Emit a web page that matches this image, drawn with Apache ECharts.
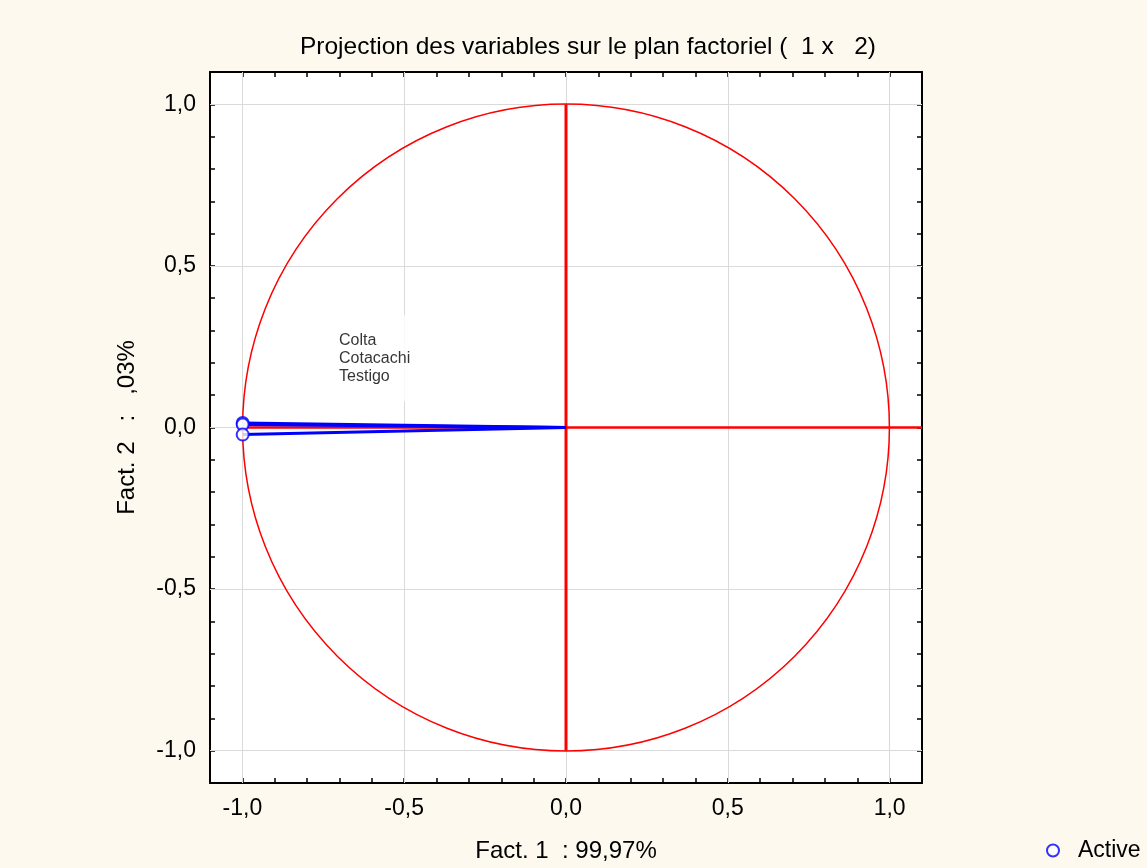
<!DOCTYPE html>
<html>
<head>
<meta charset="utf-8">
<script src="https://cdn.jsdelivr.net/npm/echarts@6/dist/echarts.min.js"></script>
<style>
  html, body { margin: 0; padding: 0; background: #fdf9ee; }
  #chart { width: 1147px; height: 868px; }
</style>
</head>
<body>
<div id="chart"></div>
<script>
// variables (coordonnees sur Fact. 1 / Fact. 2)
var varNames = ['Colta', 'Cotacachi', 'Testigo'];
var fact1 = [-0.999, -0.999, -0.999];
var fact2 = [0.014, 0.009, -0.022];
var labelPos = [-0.726, 0.214];
var gridVals = [-1, -0.5, 0, 0.5, 1];
var unitCircle = [[0, 0, 1]];
var crossH = [[-1, 0], [1.1, 0]];
var crossV = [[0, -1], [0, 1]];

var font = 'Liberation Sans, Arial, sans-serif';
var myChart = echarts.init(document.getElementById('chart'));

function tickFmt(v) {
  var r = Math.round(v * 10) / 10;
  if (Math.abs(r * 2 - Math.round(r * 2)) > 1e-9) return '';
  return r.toFixed(1).replace('.', ',');
}

function axis(pos, showLabel, name, gap) {
  return {
    type: 'value', min: -1.1, max: 1.1, interval: 0.1, position: pos,
    axisLine: { show: true, onZero: false, lineStyle: { color: '#000', width: 2 } },
    axisTick: { show: true, inside: true, length: 5, lineStyle: { color: '#000', width: 1.5 } },
    axisLabel: { show: showLabel, formatter: tickFmt, fontSize: 23, color: '#000', fontFamily: font, margin: 14 },
    splitLine: { show: false },
    name: name || '', nameLocation: 'middle', nameGap: gap || 0,
    nameTextStyle: { fontSize: 24, color: '#000', fontFamily: font }
  };
}

var series = [];
// lignes de grille
series.push({
  type: 'line', data: [], silent: true,
  markLine: {
    silent: true, symbol: 'none', z: 1, label: { show: false },
    lineStyle: { color: '#dadada', width: 1, type: 'solid' },
    data: gridVals.map(function (v) { return { xAxis: v }; })
      .concat(gridVals.map(function (v) { return { yAxis: v }; }))
  }
});
// cercle des correlations
series.push({
  type: 'custom', data: unitCircle, z: 3, silent: true,
  encode: { x: 0, y: 1 },
  renderItem: function (params, api) {
    var c = api.coord([api.value(0), api.value(1)]);
    var s = api.size([api.value(2), api.value(2)]);
    return {
      type: 'circle',
      shape: { cx: c[0], cy: c[1], r: (s[0] + s[1]) / 2 },
      style: { fill: 'none', stroke: '#ff0000', lineWidth: 1.5 }
    };
  }
});
series.push({ type: 'line', data: crossH, z: 3, symbol: 'none', silent: true,
  lineStyle: { color: '#ff0000', width: 2.5 } });
series.push({ type: 'line', data: crossV, z: 3, symbol: 'none', silent: true,
  lineStyle: { color: '#ff0000', width: 3 } });
// vecteurs
for (var i = 0; i < varNames.length; i++) {
  series.push({
    type: 'line', name: varNames[i], z: 4, symbol: 'none', silent: true,
    data: [[0, 0], [fact1[i], fact2[i]]],
    lineStyle: { color: '#0000ff', width: 3 }
  });
}
series.push({
  type: 'scatter', name: 'Active', z: 5,
  data: fact1.map(function (x, i) { return [x, fact2[i]]; }),
  symbol: 'emptyCircle', symbolSize: 12,
  itemStyle: { color: '#0000ff', borderColor: '#0000ff', borderWidth: 2 }
});
series.push({
  type: 'scatter', z: 6, silent: true, symbolSize: 0,
  data: [labelPos],
  label: {
    show: true, position: 'right', distance: 0,
    formatter: varNames.join('\n'),
    fontSize: 16, lineHeight: 18, color: '#000', fontFamily: font,
    backgroundColor: '#fff', padding: [16, 6, 16, 8]
  }
});

var option = {
  backgroundColor: '#fdf9ee',
  animation: false,
  title: {
    text: 'Projection des variables sur le plan factoriel (  1 x   2)',
    left: 583, top: 30, textAlign: 'center',
    textStyle: { fontSize: 24.5, fontWeight: 'normal', color: '#000', fontFamily: font }
  },
  legend: {
    data: ['Active'], left: 1041, top: 834,
    icon: 'emptyCircle', itemWidth: 12, itemHeight: 12,
    itemStyle: { borderWidth: 2 },
    textStyle: { fontSize: 23, color: '#000', fontFamily: font, padding: [0, 0, 0, 14] }
  },
  grid: { left: 210, right: 225, top: 72, bottom: 83, show: true, backgroundColor: '#fff', borderWidth: 0 },
  xAxis: [axis('bottom', true, 'Fact. 1  : 99,97%', 56), axis('top', false)],
  yAxis: [axis('left', true, 'Fact. 2   :   ,03%', 71), axis('right', false)],
  series: series
};
myChart.setOption(option);
</script>
</body>
</html>
